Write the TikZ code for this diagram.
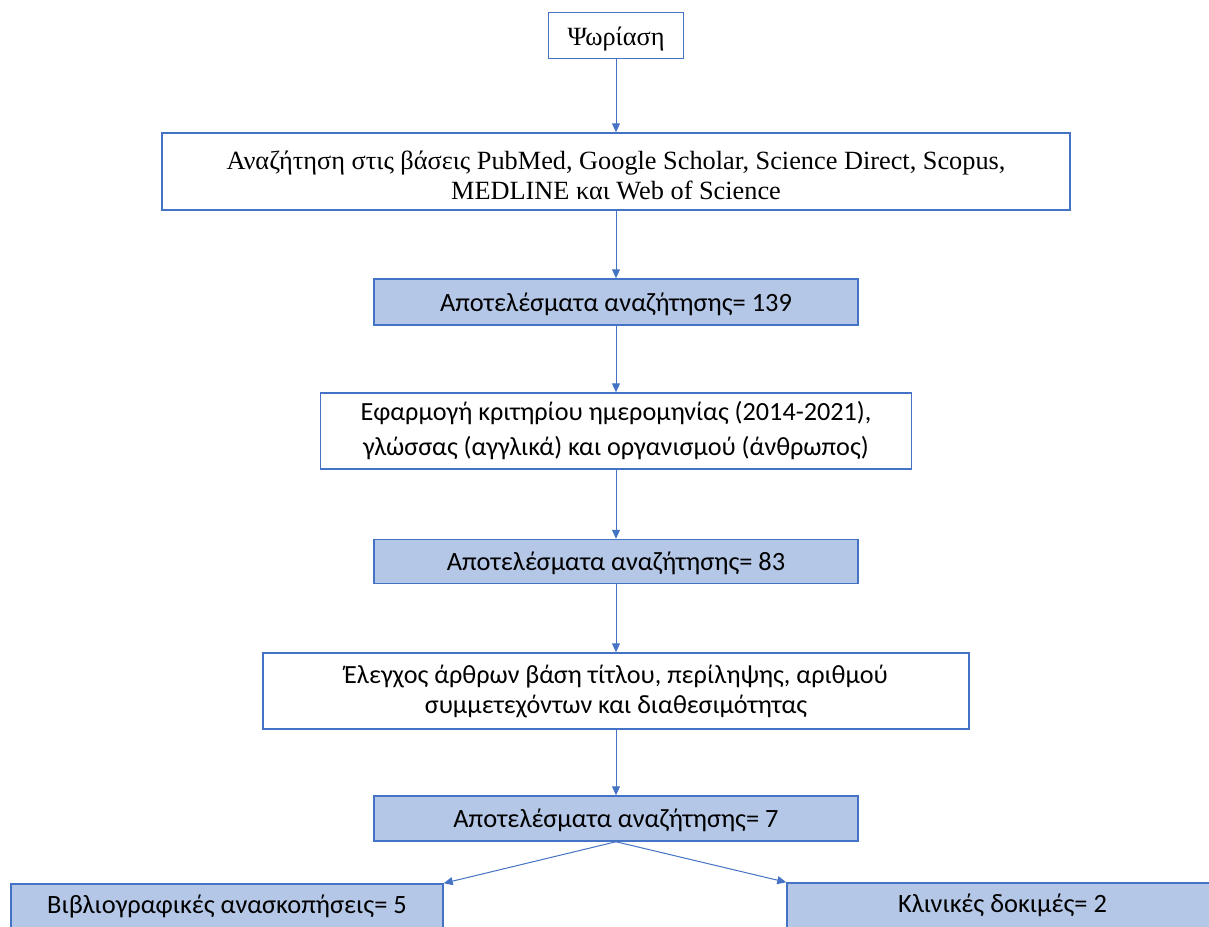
\documentclass[tikz,border=0pt]{standalone}
\usepackage{fontspec}
\setmainfont{Liberation Serif}
\newfontfamily\calib{Carlito}
\usetikzlibrary{arrows.meta}
\definecolor{bord}{HTML}{4472C4}
\definecolor{fillb}{HTML}{B4C7E7}
\newcommand\dropby[2]{\raisebox{-#1}[\height][\depth]{#2}}
\tikzset{
  box/.style={draw=bord, line width=1.5pt, inner sep=0pt, align=center},
  plainbox/.style={box, fill=white},
  resbox/.style={box, fill=fillb, font=\calib\fontsize{26.4}{31}\selectfont},
  serifbox/.style={plainbox, font=\fontsize{26.3}{30}\selectfont},
  sansbox/.style={plainbox, font=\calib\fontsize{26.2}{35}\selectfont},
  arr/.style={draw=bord, line width=1pt, -{Triangle[length=9pt,width=8pt]}}
}
\begin{document}
\begin{tikzpicture}[x=1pt,y=-1pt]
\useasboundingbox (0,0) rectangle (1209,926);
\clip (0,0) rectangle (1209,926);
\node[serifbox, minimum width=135pt, minimum height=46pt] (a) at (616,35.5) {\dropby{4pt}{Ψωρίαση}};
\node[serifbox, minimum width=908pt, minimum height=77pt] (b) at (616,171.5)
  {\dropby{7pt}{\begin{tabular}{@{}c@{}}Αναζήτηση στις βάσεις PubMed, Google Scholar, Science Direct, Scopus,\\MEDLINE και Web of Science\end{tabular}}};
\node[resbox, minimum width=484pt, minimum height=46pt] (c) at (616,302) {\dropby{2pt}{Αποτελέσματα αναζήτησης= 139}};
\node[sansbox, minimum width=591pt, minimum height=76pt] (d) at (616,431)
  {Εφαρμογή κριτηρίου ημερομηνίας (2014-2021),\\γλώσσας (αγγλικά) και οργανισμού (άνθρωπος)};
\node[resbox, minimum width=484pt, minimum height=44pt] (e) at (616,561.5) {\dropby{2pt}{Αποτελέσματα αναζήτησης= 83}};
\node[sansbox, font=\calib\fontsize{26.2}{30}\selectfont, minimum width=706pt, minimum height=76pt] (f) at (616,691)
  {Έλεγχος άρθρων βάση τίτλου, περίληψης, αριθμού\\συμμετεχόντων και διαθεσιμότητας};
\node[resbox, minimum width=484pt, minimum height=45pt] (g) at (616,818.5) {\dropby{2pt}{Αποτελέσματα αναζήτησης= 7}};
\node[resbox, minimum width=432pt, minimum height=45pt] (h) at (227,906.5) {Βιβλιογραφικές ανασκοπήσεις= 5};
\node[resbox, minimum width=431pt, minimum height=45pt] (i) at (1002.5,905.5) {Κλινικές δοκιμές= 2};
\draw[arr] (a) -- (b);
\draw[arr] (b) -- (c);
\draw[arr] (c) -- (d);
\draw[arr] (d) -- (e);
\draw[arr] (e) -- (f);
\draw[arr] (f) -- (g);
\draw[arr] (g.south) -- (h.north east);
\draw[arr] (g.south) -- (i.north west);
\end{tikzpicture}
\end{document}
